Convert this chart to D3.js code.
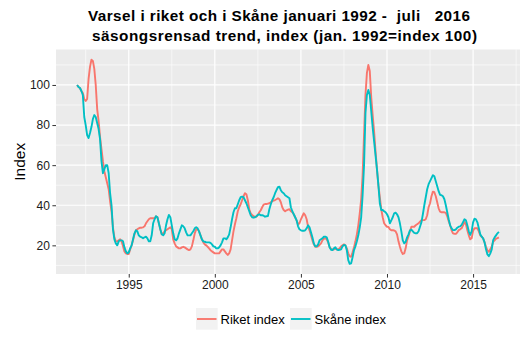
<!DOCTYPE html>
<html><head><meta charset="utf-8">
<script src="https://cdn.jsdelivr.net/npm/d3@7"></script>
<style>
html,body{margin:0;padding:0;background:#fff;}
text{font-family:"Liberation Sans",Arial,sans-serif;}
</style></head>
<body><svg id="c" width="528" height="355"></svg>
<script>
const titleLines = ["Varsel i riket och i Skåne januari 1992 -  juli   2016", "säsongsrensad trend, index (jan. 1992=index 100)"];
const yLabel = "Index";
const startYear = 1992;
const seriesNames = ["Riket index", "Skåne index"];
const seriesColors = ["#F8766D", "#00BFC4"];
const xTicks = [1995, 2000, 2005, 2010, 2015];
const yTicks = [20, 40, 60, 80, 100];

// monthly values, Jan 1992 .. Jul 2016
const riket = [
100,99,98.5,97,96,93,92,93,103,109,112.6,112,
108,100,88,82,74,68,62,57,54,51,48,42,
37,29,24,22,22,22.5,23,22,19.5,17,16,15.7,
15.7,18,20,22.5,25.5,27.5,28,28.5,28.8,28.8,29,29.5,
31,32,33,33.5,33.5,33.5,33.5,34.5,34,31,28,25.5,
26,27,27.5,28,28.5,29,28,23,21,19.5,19,18.5,
18.5,19,19.3,19,18.5,18,17.6,18,19.5,22.5,26,28,
28,27,25,23,21.5,20.5,20,19.3,18.5,17.6,17,16.5,
16,16,16,16,17,18,18,17,16,15.2,16,18,
22.5,27,30.5,33.5,37,39,40.5,42.5,44.5,46,45.5,42.5,
38,36,35.2,34.5,34.3,34.3,35.3,36.5,37.5,39,40.3,40.6,
40.6,40.8,41,41.5,42,42.3,42.6,43,43.5,43,41.5,39,
37.6,37,37.5,37.8,38,37,36.5,35.5,34,32.5,30.6,31,
33,34.5,36,35,33,29.3,27.5,25,22.5,20.5,19.3,19.3,
19.5,20.2,21,22.5,23.3,23.5,23,21.5,19,18.3,17.8,18,
18.5,18,18,18.5,19.5,20,20.5,20,18.5,16,14.5,14.3,
16.5,19,22,25.5,30,36,43,55,75,95,106,110,
107,94,85,77,67,58,50,44,38,34,31,30,
29.3,29.2,28,27.5,27.6,27.4,27,25.5,22,19.3,17,15.7,
16,18.5,22.5,24.5,27,29.3,29.3,29.3,30,30.5,31,31.8,
32.5,32.6,32.6,33,35,39,41,44.5,46.8,46.5,44.5,41.5,
38.5,36.8,36.5,36.5,36.5,36.2,34.5,32,30,27.5,26,25.8,
25.7,26.5,27.6,28,28.5,30,31.6,30.5,27.5,25,23,23.5,
27.3,28.5,28.5,28.5,27,25,24.3,23.5,21.5,19.3,17.5,16.8,
18,19.5,21.8,22.5,23.3,23.6,24
];
const skane = [
100,99,98.5,97,95,84,80,75,73.5,76,79,83,
85,84,81,78,73,62,56,58,60,60,56,46,
40,28,23,21,20,22,22.5,22.5,22,19,17,16,
16.5,18.5,20,23,26,27.5,27,25,24.3,24,23.5,24,
24.3,23.5,22,22,25,31,33,34.5,34,31,28,25.5,
25,26,30,33,35.2,34,30,26,23,22.5,23.5,26,
28,30,29.5,28.5,26.5,25,25,25,26,27,28.5,29,
28.5,27,25,23,22,21.8,21.5,21.5,21.5,21.2,20.5,19.5,
19.3,18.5,18.5,19,20,21.5,23.5,23.5,23,24,25.5,29,
33,36.5,38.5,38.5,40.5,42.5,44,44.3,44,42.5,41,39,
37,35,34,33.8,34,34.5,35.2,35.5,35,35,34.8,34.3,
34.5,34.6,38,40.5,42.5,44,46,47.6,49,49.3,47.5,46.5,
46,45,44.5,44,43.5,39,37,35.5,34,32.5,29.5,28,
27.5,27.3,27.3,27.5,28.5,30,29,26.5,24,21,19.5,19.5,
20.5,22.5,23,23.5,24.3,24.3,24,21.8,19,17.8,17.6,18.5,
19,18,17.6,17.8,18,19.5,20.2,20,17.6,12.6,10.8,11,
14,17.6,19.5,22,25,29,34,45,60,86,95,97.5,
95,87,79,72,65,58,50,41,37.6,37.6,37,36.5,
35.5,34,31,32.5,34,36,36.3,35.5,34,31,27,22.5,
21,21.8,24,25.5,27.5,27.8,27,26.2,26,26,27,29.3,
31.5,35.5,40,44,48,50.5,52,53.5,55,54.5,52,49.5,
47,45.2,45,44.5,43,40,36.5,33,30,28.5,27.6,27.6,
28,28.8,29.3,29.5,30.2,31.6,33,32.5,30,27,25.2,27,
31.5,33.3,33,31.5,28.5,25.5,24.3,23.5,21.5,18,15.5,14.6,
16,18,22.6,24,25,26,26.7
];

const svg = d3.select("#c");
const panel = {left: 56, right: 520, top: 49.5, bottom: 274};

const seriesData = [riket, skane].map(arr => arr.map((v, i) => ({t: startYear + i / 12, v})));
const allT = seriesData.flat().map(d => d.t);
const allV = seriesData.flat().map(d => d.v);
function expand(ext){ const r = ext[1]-ext[0]; return [ext[0]-0.05*r, ext[1]+0.05*r]; }
const x = d3.scaleLinear().domain(expand(d3.extent(allT))).range([panel.left, panel.right]);
const y = d3.scaleLinear().domain(expand(d3.extent(allV))).range([panel.bottom, panel.top]);

// background
svg.append("rect").attr("x", panel.left).attr("y", panel.top)
  .attr("width", panel.right - panel.left).attr("height", panel.bottom - panel.top).attr("fill", "#EBEBEB");

// grid
const xMinor = xTicks.map(t => t - 2.5).concat([xTicks[xTicks.length-1] + 2.5]);
const yMinor = yTicks.map(t => t - 10).concat([yTicks[yTicks.length-1] + 10]);
const g = svg.append("g");
g.selectAll(".xm").data(xMinor.filter(t => x(t) >= panel.left && x(t) <= panel.right)).join("line")
  .attr("x1", d => x(d)).attr("x2", d => x(d)).attr("y1", panel.top).attr("y2", panel.bottom)
  .attr("stroke", "#fff").attr("stroke-width", 0.6);
g.selectAll(".ym").data(yMinor.filter(t => y(t) >= panel.top && y(t) <= panel.bottom)).join("line")
  .attr("y1", d => y(d)).attr("y2", d => y(d)).attr("x1", panel.left).attr("x2", panel.right)
  .attr("stroke", "#fff").attr("stroke-width", 0.6);
g.selectAll(".xM").data(xTicks).join("line")
  .attr("x1", d => x(d)).attr("x2", d => x(d)).attr("y1", panel.top).attr("y2", panel.bottom)
  .attr("stroke", "#fff").attr("stroke-width", 1.2);
g.selectAll(".yM").data(yTicks).join("line")
  .attr("y1", d => y(d)).attr("y2", d => y(d)).attr("x1", panel.left).attr("x2", panel.right)
  .attr("stroke", "#fff").attr("stroke-width", 1.2);

// lines
const line = d3.line().x(d => x(d.t)).y(d => y(d.v)).curve(d3.curveLinear);
svg.append("g").selectAll("path").data(seriesData).join("path")
  .attr("d", line).attr("fill", "none")
  .attr("stroke", (d, i) => seriesColors[i]).attr("stroke-width", 1.9)
  .attr("stroke-linejoin", "round");

// axes
const xAxis = d3.axisBottom(x).tickValues(xTicks).tickFormat(d3.format("d")).tickSize(3.6).tickPadding(2.5);
const yAxis = d3.axisLeft(y).tickValues(yTicks).tickSize(3.6).tickPadding(2.5);
const gx = svg.append("g").attr("transform", `translate(0,${panel.bottom})`).call(xAxis);
const gy = svg.append("g").attr("transform", `translate(${panel.left},0)`).call(yAxis);
[gx, gy].forEach(a => {
  a.select(".domain").remove();
  a.selectAll(".tick line").attr("stroke", "#333").attr("stroke-width", 1);
  a.selectAll(".tick text").attr("fill", "#1a1a1a").style("font-size", "12px")
    .style("font-family", '"Liberation Sans", Arial, sans-serif');
});

// y label
svg.append("text").attr("transform", `translate(25,${(panel.top+panel.bottom)/2}) rotate(-90)`)
  .attr("text-anchor", "middle").style("font-size", "15.5px").attr("fill", "#000").text(yLabel);

// title
const titleSpec = [{x: 88, y: 20.8, len: 382}, {x: 92, y: 40.8, len: 385}];
titleLines.forEach((t, i) => {
  svg.append("text").attr("x", titleSpec[i].x).attr("y", titleSpec[i].y)
    .attr("textLength", titleSpec[i].len).attr("lengthAdjust", "spacing")
    .style("font-size", "15.3px").style("font-weight", "bold").style("white-space", "pre")
    .attr("fill", "#000").text(t);
});

// legend
const legendKeys = [{x: 196, tx: 220.5}, {x: 290, tx: 314.5}];
const lg = svg.append("g");
seriesNames.forEach((name, i) => {
  const k = legendKeys[i];
  lg.append("rect").attr("x", k.x).attr("y", 308).attr("width", 21.7).attr("height", 21.7).attr("fill", "#F2F2F2");
  lg.append("line").attr("x1", k.x + 1).attr("x2", k.x + 20.5).attr("y1", 319).attr("y2", 319)
    .attr("stroke", seriesColors[i]).attr("stroke-width", 1.9);
  lg.append("text").attr("x", k.tx).attr("y", 323.6).style("font-size", "13px").attr("fill", "#000").text(name);
});
</script></body></html>
